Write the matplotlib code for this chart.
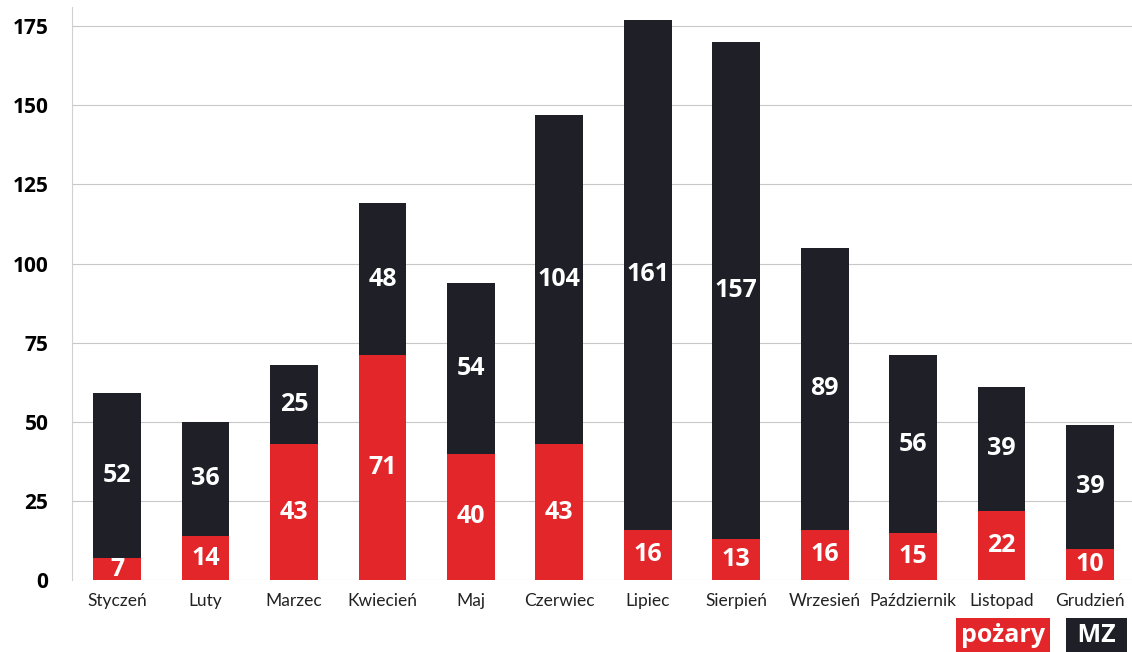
import matplotlib.pyplot as plt

months = ["Styczeń", "Luty", "Marzec", "Kwiecień", "Maj", "Czerwiec",
          "Lipiec", "Sierpień", "Wrzesień", "Październik", "Listopad", "Grudzień"]
pozary = [7, 14, 43, 71, 40, 43, 16, 13, 16, 15, 22, 10]
mz = [52, 36, 25, 48, 54, 104, 161, 157, 89, 56, 39, 39]
yticks = [0, 25, 50, 75, 100, 125, 150, 175]

RED = "#e3262a"
DARK = "#1e1f27"
BOLD = ["Open Sans", "DejaVu Sans"]

plt.rcParams["font.family"] = ["Lato", "DejaVu Sans"]

fig = plt.figure(figsize=(11.32, 6.52), dpi=100)
ax = fig.add_axes([0.0636, 0.110, 0.936, 0.879])

x = range(len(months))
b1 = ax.bar(x, pozary, width=0.54, color=RED, zorder=3)
b2 = ax.bar(x, mz, width=0.54, bottom=pozary, color=DARK, zorder=3)

for bars in (b1, b2):
    labels = ax.bar_label(bars, label_type="center", color="white",
                          fontsize=18, fontweight="bold", zorder=4)
    for t in labels:
        t.set_family(BOLD)

ax.set_xlim(-0.51, 11.47)
ax.set_ylim(0, 181)
ax.set_yticks(yticks)
ax.set_yticklabels([str(v) for v in yticks], fontsize=15, fontweight="bold",
                   family=BOLD)
ax.set_xticks(list(x))
ax.set_xticklabels(months, fontsize=12.5, color="#222222")
ax.tick_params(axis="x", length=0, pad=9)
ax.tick_params(axis="y", length=0, pad=17)

ax.grid(axis="y", color="#c8c8c8", linewidth=0.8, zorder=0)
for side in ["top", "right", "bottom"]:
    ax.spines[side].set_visible(False)
ax.spines["left"].set_color("#d0d0d0")
ax.spines["left"].set_linewidth(0.8)

# legend boxes under the chart
fig.text(0.886, 0.026, "pożary", color="white", fontsize=18, fontweight="bold",
         family=BOLD, ha="center", va="center",
         bbox=dict(boxstyle="square,pad=0.2", facecolor=RED, edgecolor="none"))
fig.text(0.969, 0.026, " MZ ", color="white", fontsize=18, fontweight="bold",
         family=BOLD, ha="center", va="center",
         bbox=dict(boxstyle="square,pad=0.2", facecolor=DARK, edgecolor="none"))

fig.savefig("out.png", dpi=100)
